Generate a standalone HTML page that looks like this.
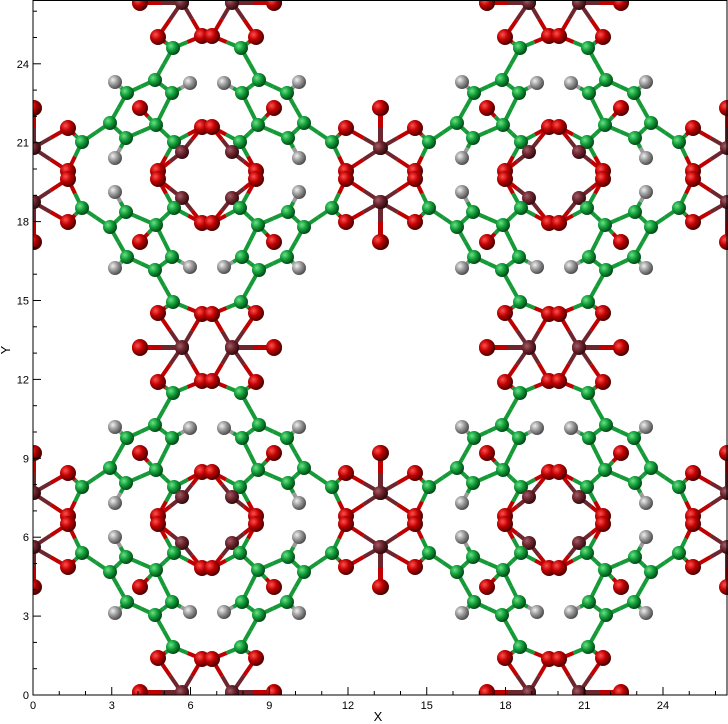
<!DOCTYPE html>
<html><head><meta charset="utf-8"><style>
html,body{margin:0;padding:0;background:#fff;width:728px;height:724px;overflow:hidden}
svg{display:block;font-family:"Liberation Sans",sans-serif}
</style></head><body>
<svg id="chart" width="728" height="724" viewBox="0 0 728 724" xmlns="http://www.w3.org/2000/svg">
<defs>
<radialGradient id="gC" cx="35%" cy="35%" r="65%"><stop offset="0" stop-color="#6fe08a"/><stop offset="0.5" stop-color="#12a03a"/><stop offset="1" stop-color="#054a18"/></radialGradient>
<radialGradient id="gO" cx="35%" cy="35%" r="65%"><stop offset="0" stop-color="#ff5050"/><stop offset="0.5" stop-color="#c00000"/><stop offset="1" stop-color="#500000"/></radialGradient>
<radialGradient id="gCu" cx="35%" cy="35%" r="65%"><stop offset="0" stop-color="#a0606a"/><stop offset="0.5" stop-color="#6e262e"/><stop offset="1" stop-color="#320c10"/></radialGradient>
<radialGradient id="gH" cx="35%" cy="35%" r="65%"><stop offset="0" stop-color="#f0f0f0"/><stop offset="0.5" stop-color="#9a9a9a"/><stop offset="1" stop-color="#505050"/></radialGradient>
<clipPath id="plotClip"><rect x="33" y="0" width="695" height="695"/></clipPath>
</defs>
<g id="bonds" clip-path="url(#plotClip)"></g>
<g id="atoms" clip-path="url(#plotClip)"></g>
<g id="axes">
<rect x="33" y="0.5" width="694" height="694.5" fill="none" stroke="#000" stroke-width="1"/>
</g>
<text x="378" y="721" font-size="13" text-anchor="middle">X</text>
<text x="10" y="350" font-size="13" text-anchor="middle" transform="rotate(-90 10 350)">Y</text>
</svg>
<script>
const xTicks=[0,3,6,9,12,15,18,21,24];
const yTicks=[0,3,6,9,12,15,18,21,24];
// atoms of one quadrant of the repeating motif, offsets (px) from motif centre
const atomType=["C","C","C","C","C","C","C","C","C","O","O","O","O","O","O","O","H","H","H","Cu","Cu","Cu","O","O"];
const atomDX=[-125,-97,-80,-52,-35,-51,-81,-34,-33,-139,-139,-67,-49,-5,-5,-49,-92,-17,-92,-25,-174,-25,-174,-67];
const atomDY=[-33,-52,-82,-95,-82,-50,-37,-127,-33,-47,-4,-67,-138,-139,-48,-4,-93,-92,-17,-23,-27,-173,-67,-173];
const bondA=[0,1,2,3,4,5,6,3,5,0,0,5,7,7,8,8,2,4,6,19,19,20,20,20,21,21,21];
const bondB=[1,2,3,4,5,6,1,7,8,9,10,11,12,13,14,15,16,17,18,14,15,9,10,22,12,13,23];
const NS="http://www.w3.org/2000/svg";
const X0=33,XS=26.25,Y0=695,YS=26.3;
const sx=v=>X0+v*XS, sy=v=>Y0-v*YS;
const CX=207,CY=175,PX=347,PY=345;
const col={C:"#169a38",O:"#c00000",Cu:"#6e262e",H:"#9a9a9a"};
const grad={C:"url(#gC)",O:"url(#gO)",Cu:"url(#gCu)",H:"url(#gH)"};
const rad={C:7,O:8,Cu:7,H:7};
const bg=document.getElementById('bonds'),ag=document.getElementById('atoms'),ax=document.getElementById('axes'),svg=document.getElementById('chart');
const atomsOut=[];
const mirrors=[[1,1],[-1,1],[1,-1],[-1,-1]];
const inside=p=>p[0]>=0&&p[0]<=780&&p[1]>=-30&&p[1]<=718;
for(let i=-1;i<=2;i++)for(let j=-1;j<=2;j++){
 const cx=CX+i*PX,cy=CY+j*PY;
 for(const m of mirrors){
  const P=k=>[cx+m[0]*atomDX[k],cy+m[1]*atomDY[k]];
  for(let b=0;b<bondA.length;b++){
   const a=P(bondA[b]),c=P(bondB[b]);
   const mid=[(a[0]+c[0])/2,(a[1]+c[1])/2];
   [[a,bondA[b]],[c,bondB[b]]].forEach(([p,k])=>{
    if(!inside(p)||!inside(mid))return;
    const l=document.createElementNS(NS,'line');
    
    
    l.setAttribute('x1',p[0]);l.setAttribute('y1',p[1]);l.setAttribute('x2',mid[0]);l.setAttribute('y2',mid[1]);
    l.setAttribute('stroke',col[atomType[k]]);l.setAttribute('stroke-width',4);
    bg.appendChild(l);
   });
  }
  for(let k=0;k<atomType.length;k++){const p=P(k);atomsOut.push([p[0],p[1],atomType[k]]);}
 }
}
atomsOut.sort((a,b)=>a[1]-b[1]);
for(const a of atomsOut){
 if(a[0]<20||a[0]>740||a[1]<-10||a[1]>706)continue;
 const c=document.createElementNS(NS,'circle');
 
 
 c.setAttribute('cx',a[0]);c.setAttribute('cy',a[1]);c.setAttribute('r',rad[a[2]]);c.setAttribute('fill',grad[a[2]]);
 ag.appendChild(c);
}
for(let v=0;v<=26;v++){
 const major=v%3===0;
 const t=document.createElementNS(NS,'line');
 
 
 t.setAttribute('x1',sx(v));t.setAttribute('x2',sx(v));t.setAttribute('y1',695);t.setAttribute('y2',major?687:691);t.setAttribute('stroke','#000');
 ax.appendChild(t);
 const u=document.createElementNS(NS,'line');
 
 
 u.setAttribute('x1',33);u.setAttribute('x2',major?41:37);u.setAttribute('y1',sy(v));u.setAttribute('y2',sy(v));u.setAttribute('stroke','#000');
 ax.appendChild(u);
}
xTicks.forEach(v=>{const t=document.createElementNS(NS,'text');
 
 
 t.setAttribute('x',sx(v));t.setAttribute('y',709);t.setAttribute('font-size','11');t.setAttribute('text-anchor','middle');t.textContent=v;svg.appendChild(t);});
yTicks.forEach(v=>{const t=document.createElementNS(NS,'text');
 
 
 t.setAttribute('x',29);t.setAttribute('y',sy(v)+4);t.setAttribute('font-size','11');t.setAttribute('text-anchor','end');t.textContent=v;svg.appendChild(t);});
</script>
</body></html>
